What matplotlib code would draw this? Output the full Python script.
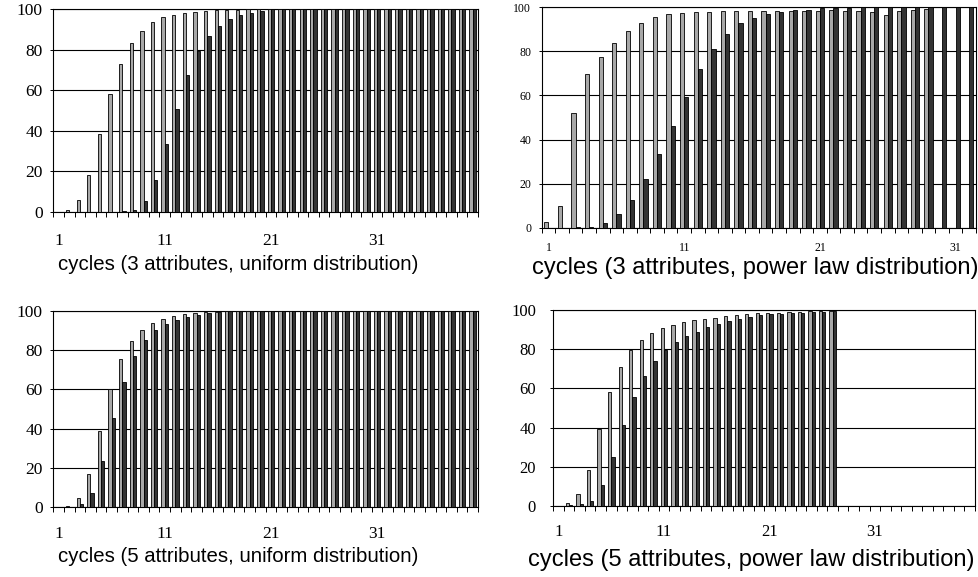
import matplotlib as mpl

mpl.use("Agg")

import matplotlib.pyplot as plt
import numpy as np

# Data

n_cycles_uniform = 40
n_cycles_power3 = 32
n_cycles_power5 = 40

p1_light = [0.2, 1, 6, 18.5, 38.5, 58, 73, 83.5, 89.5, 93.5,
            96, 97, 98, 98.7, 99, 99.6, 99.7, 99.8, 100, 100,
            100, 100, 100, 100, 100, 100, 100, 100, 100, 100,
            100, 100, 100, 100, 100, 100, 100, 100, 100, 100]
p1_dark = [0, 0, 0, 0, 0, 0, 0.3, 1, 5.4, 15.8,
           33.5, 51, 67.6, 79.6, 86.8, 92, 95, 97.2, 98.3, 99.2,
           100, 100, 100, 100, 100, 100, 100, 100, 100, 100,
           100, 100, 100, 100, 100, 100, 100, 100, 100, 100]

p2_light = [2.4, 10, 52, 69.6, 77.3, 83.8, 89.4, 93, 95.5, 96.8,
            97.6, 98, 98, 98.3, 98.3, 98.3, 98.3, 98.3, 98.5, 98.3,
            98.5, 98.6, 98.5, 98.3, 98, 96.4, 98.5, 98.9, 99.2]
p2_dark = [0, 0, 0.3, 0.5, 2, 6, 12.5, 22, 33.4, 46,
           59.5, 72, 81.2, 88, 93, 95.3, 97.1, 97.9, 98.6, 98.9,
           99.5, 99.5, 99.8, 100, 100, 100, 100, 100, 100, 100,
           100, 100]

p3_light = [0, 0.7, 4.7, 17.1, 39, 60, 75.3, 84.4, 90, 93.6,
            95.6, 97.3, 98.1, 98.8, 99.2, 99.5, 99.8, 100, 100, 100,
            100, 100, 100, 100, 100, 100, 100, 100, 100, 100,
            100, 100, 100, 100, 100, 100, 100, 100, 100, 100]
p3_dark = [0, 0.3, 1.9, 7.3, 23.6, 45.6, 63.9, 77, 84.9, 90.2,
           93, 95.4, 96.9, 97.8, 98.6, 99.2, 99.7, 100, 100, 100,
           100, 100, 100, 100, 100, 100, 100, 100, 100, 100,
           100, 100, 100, 100, 100, 100, 100, 100, 100, 100]

p4_light = [0, 1.4, 6.1, 18.2, 39.5, 58.3, 71.1, 79.6, 84.9, 88.4,
            90.6, 92.5, 93.7, 94.7, 95.4, 96.1, 96.8, 97.3, 97.8, 98.3,
            98.5, 98.6, 98.8, 99, 99.3, 99.5, 99.7]
p4_dark = [0, 0.7, 1.2, 2.7, 10.7, 25.2, 41.2, 55.4, 66.2, 74.1,
           79.8, 83.5, 86.6, 88.9, 91.3, 93, 94.4, 95.6, 96.6, 97.3,
           97.9, 98.1, 98.5, 98.6, 99, 99.1, 99.5]

xtick_labels = [1, 11, 21, 31]
yticks = [0, 20, 40, 60, 80, 100]

W, H = 979, 577
fig = plt.figure(figsize=(W / 100, H / 100), dpi=100)

serif = "Liberation Serif"
sans = "Liberation Sans"
light_color = "#a8a8a8"
dark_color = "#333333"


def px_axes(left, right, top, bottom):
    return fig.add_axes([left / W, 1 - bottom / H, (right - left) / W, (bottom - top) / H])


def draw_panel(ax, light, dark, n_cycles, tick_size, xpad, ypad):
    x_light = np.arange(1, len(light) + 1)
    x_dark = np.arange(1, len(dark) + 1)
    ax.bar(x_light - 0.31, light, width=0.31, align="edge", color=light_color,
           edgecolor="black", linewidth=0.6, zorder=3)
    ax.bar(x_dark, dark, width=0.31, align="edge", color=dark_color,
           edgecolor="black", linewidth=0.6, zorder=3)

    ax.set_xlim(0.5, n_cycles + 0.5)
    ax.set_ylim(0, 100)
    ax.set_yticks(yticks)
    ax.set_yticklabels([str(v) for v in yticks], family=serif, fontsize=tick_size)
    ax.set_xticks(xtick_labels)
    ax.set_xticklabels([str(v) for v in xtick_labels], family=serif, fontsize=tick_size)
    ax.set_xticks(np.arange(0.5, n_cycles + 1, 1), minor=True)
    ax.tick_params(axis="x", which="major", length=0, pad=xpad)
    ax.tick_params(axis="x", which="minor", length=3.5, width=0.7, direction="out")
    ax.tick_params(axis="y", length=2.5, width=0.7, pad=ypad)
    ax.yaxis.grid(True, color="black", linewidth=0.8, zorder=0)
    ax.set_axisbelow(True)
    for sp in ax.spines.values():
        sp.set_linewidth(0.8)
        sp.set_color("black")


ax1 = px_axes(53.3, 478, 9.3, 212)
draw_panel(ax1, p1_light, p1_dark, n_cycles_uniform, 12.5, 15, 5)
fig.text(238 / W, 1 - 265 / H, "cycles (3 attributes, uniform distribution)",
         family=sans, fontsize=14.7, ha="center", va="center")

ax2 = px_axes(541.7, 976, 7.3, 227.7)
draw_panel(ax2, p2_light, p2_dark, n_cycles_power3, 8.5, 10, 5)
fig.text(755 / W, 1 - 268 / H, "cycles (3 attributes, power law distribution)",
         family=sans, fontsize=17, ha="center", va="center")

ax3 = px_axes(53.3, 478, 310.7, 507.3)
draw_panel(ax3, p3_light, p3_dark, n_cycles_uniform, 12.5, 13.5, 5)
fig.text(238 / W, 1 - 557 / H, "cycles (5 attributes, uniform distribution)",
         family=sans, fontsize=14.7, ha="center", va="center")

ax4 = px_axes(553.3, 975, 310, 506)
draw_panel(ax4, p4_light, p4_dark, n_cycles_power5, 12, 13, 10)
fig.text(751 / W, 1 - 560 / H, "cycles (5 attributes, power law distribution)",
         family=sans, fontsize=17, ha="center", va="center")

fig.savefig("out.png", dpi=100)
